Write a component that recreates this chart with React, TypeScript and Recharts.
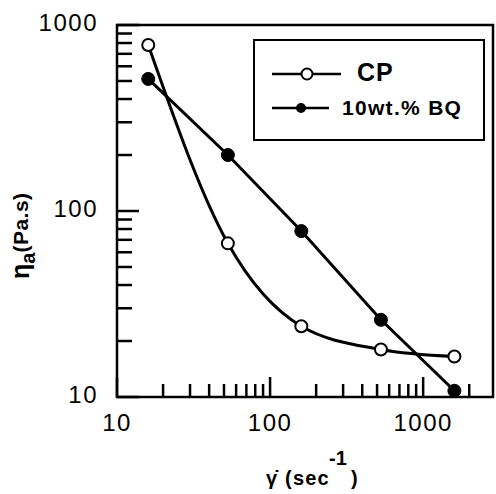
import React from 'react';
import { LineChart, Line, XAxis, YAxis, Legend, ReferenceArea } from 'recharts';

// shear rate (1/s) and apparent viscosity (Pa.s)
const shearRate = [16, 53, 160, 530, 1600];
const cpViscosity = [780, 67, 24, 18, 16.5];
const bqViscosity = [513, 200, 78, 26, 10.8];

const xTicks = [10, 20, 30, 40, 50, 60, 70, 80, 90, 100, 200, 300, 400, 500, 600, 700, 800, 900, 1000, 2000];
const yTicks = [10, 20, 30, 40, 50, 60, 70, 80, 90, 100, 200, 300, 400, 500, 600, 700, 800, 900, 1000];
const majorTicks = [10, 100, 1000];

const data = shearRate.map((x, i) => ({ x, cp: cpViscosity[i], bq: bqViscosity[i] }));

const FONT = '"Liberation Sans", Arial, sans-serif';

const renderXTick = (props: any) => {
  const { x, y, payload } = props;
  const major = majorTicks.includes(payload.value);
  return (
    <g key={`xt-${payload.value}`}>
      <line x1={x} x2={x} y1={y} y2={y - (major ? 20 : 13)} stroke="#000" strokeWidth={2.5} />
      {major && (
        <text x={x} y={y + 34} textAnchor="middle" fontFamily={FONT} fontSize={24} letterSpacing={1.5} fill="#000">
          {payload.value}
        </text>
      )}
    </g>
  );
};

const renderYTick = (props: any) => {
  const { x, y, payload } = props;
  const major = majorTicks.includes(payload.value);
  return (
    <g key={`yt-${payload.value}`}>
      <line x1={x} x2={x + (major ? 22 : 15)} y1={y} y2={y} stroke="#000" strokeWidth={2.5} />
      {major && (
        <text x={x - 19} y={y + 6} textAnchor="end" fontFamily={FONT} fontSize={24} letterSpacing={1.5} fill="#000">
          {payload.value}
        </text>
      )}
    </g>
  );
};

// boxed legend in the top right of the plot
const LegendBox: React.FC<any> = () => (
  <div
    style={{
      width: 228,
      height: 98,
      border: '2px solid #000',
      background: '#fff',
      position: 'relative',
    }}
  >
    <svg width={228} height={98} style={{ position: 'absolute', left: 0, top: 0 }}>
      <line x1={17} x2={86} y1={33} y2={33} stroke="#000" strokeWidth={2.5} />
      <circle cx={52} cy={33} r={5.5} fill="#fff" stroke="#000" strokeWidth={2} />
      <text x={102} y={40} fontFamily={FONT} fontSize={25} fontWeight="bold" letterSpacing={1} fill="#000">CP</text>
      <line x1={17} x2={74} y1={67} y2={67} stroke="#000" strokeWidth={2.5} />
      <circle cx={46} cy={67} r={5} fill="#000" />
      <text x={87} y={74} fontFamily={FONT} fontSize={21} fontWeight="bold" letterSpacing={1.3} fill="#000">10wt.% BQ</text>
    </svg>
  </div>
);

export default function App() {
  return (
    <div style={{ position: 'absolute', left: 0, top: 0, width: 496, height: 494, background: '#fff' }}>
      <LineChart width={496} height={494} data={data} margin={{ top: 25, right: 3, bottom: 0, left: 0 }}>
        <XAxis
          dataKey="x"
          type="number"
          scale="log"
          domain={[10, 2860]}
          ticks={xTicks}
          interval={0}
          height={97}
          axisLine={false}
          tickLine={false}
          tickSize={0}
          tickMargin={0}
          tick={renderXTick}
          allowDataOverflow
        />
        <YAxis
          type="number"
          scale="log"
          domain={[10, 1000]}
          ticks={yTicks}
          interval={0}
          width={117}
          axisLine={false}
          tickLine={false}
          tickSize={0}
          tickMargin={0}
          tick={renderYTick}
          allowDataOverflow
        />
        <ReferenceArea
          x1={10}
          x2={2860}
          y1={10}
          y2={1000}
          fill="#fff"
          fillOpacity={0}
          stroke="#000"
          strokeWidth={2.5}
          ifOverflow="visible"
        />
        <Legend
          layout="vertical"
          align="center"
          verticalAlign="middle"
          content={<LegendBox />}
          wrapperStyle={{ position: 'absolute', left: 253, top: 39, width: 232, height: 102 }}
        />
        <Line
          type="monotone"
          dataKey="cp"
          name="CP"
          stroke="#000"
          strokeWidth={3}
          dot={{ r: 6, fill: '#fff', stroke: '#000', strokeWidth: 2 }}
          isAnimationActive={false}
        />
        <Line
          type="linear"
          dataKey="bq"
          name="10wt.% BQ"
          stroke="#000"
          strokeWidth={3}
          dot={{ r: 6.5, fill: '#000', stroke: '#000', strokeWidth: 1 }}
          isAnimationActive={false}
        />
      </LineChart>
      <svg width={496} height={494} style={{ position: 'absolute', left: 0, top: 0, pointerEvents: 'none' }}>
        <text transform="translate(29, 279) rotate(-90)" fontFamily={FONT} fontWeight="bold" fill="#000">
          <tspan fontSize={25}>η</tspan>
          <tspan fontSize={20} dy={6}>a</tspan>
          <tspan fontSize={21} dy={-7} letterSpacing={0.5}>(Pa.s)</tspan>
        </text>
        <text x={266} y={485} fontFamily={FONT} fontWeight="bold" fontSize={20} letterSpacing={1.2} fill="#000">
          γ̇ (sec
        </text>
        <text x={329} y={465} fontFamily={FONT} fontWeight="bold" fontSize={20} fill="#000">
          -1
        </text>
        <text x={351} y={485} fontFamily={FONT} fontWeight="bold" fontSize={20} fill="#000">
          )
        </text>
      </svg>
    </div>
  );
}
